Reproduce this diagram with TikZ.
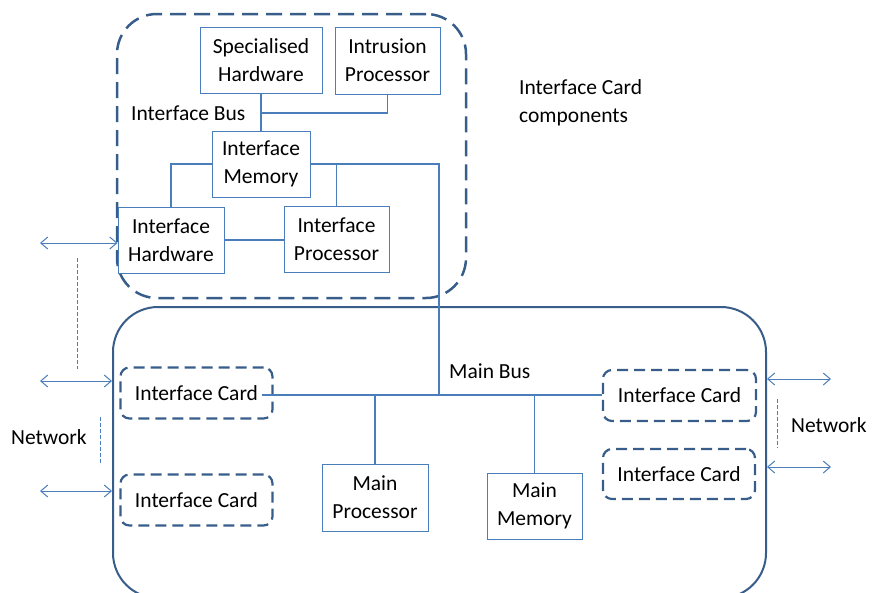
\documentclass[tikz,border=0pt]{standalone}
\usepackage{fontspec}
\setmainfont{Carlito}
\usetikzlibrary{arrows.meta}
\definecolor{lineblue}{RGB}{74,126,187}
\definecolor{frameblue}{RGB}{56,93,138}
\begin{document}
\begin{tikzpicture}[x=1pt,y=-1pt,
  every node/.style={font=\fontsize{21.5}{28}\selectfont, text=black},
  unit/.style={draw=lineblue, line width=1pt, align=center, inner sep=0pt},
  cardbox/.style={draw=frameblue, line width=2.2pt, dash pattern=on 11pt off 6pt,
    rounded corners=9pt, inner sep=0pt, minimum width=152pt, minimum height=51pt},
  link/.style={draw=lineblue, line width=1.1pt},
  netarrow/.style={lineblue, line width=1pt,
    {Straight Barb[length=7pt,width=12pt]}-{Straight Barb[length=7pt,width=12pt]}},
  netdash/.style={lineblue, line width=0.9pt, dash pattern=on 4pt off 2pt},
  label/.style={inner sep=0pt, anchor=base west}]

\useasboundingbox (0,0) rectangle (872,592);

% interface card enclosure and the host machine
\node[draw=frameblue, line width=2.5pt, dash pattern=on 16pt off 8pt,
  rounded corners=40pt, minimum width=349pt, minimum height=284pt] (icbox) at (291.5,156) {};
\node[draw=frameblue, line width=2pt, rounded corners=45pt,
  minimum width=653pt, minimum height=291pt] (mainbox) at (439.5,452.5) {};

% components of the interface card
\node[unit, minimum width=122pt, minimum height=66pt] (spec)  at (261,60)    {Specialised\\Hardware};
\node[unit, minimum width=105pt, minimum height=67pt] (intr)  at (387.5,60.5) {Intrusion\\Processor};
\node[unit, minimum width=98pt,  minimum height=66pt] (imem)  at (261,164)   {Interface\\Memory};
\node[unit, minimum width=106pt, minimum height=66pt] (ihw)   at (171,240)   {Interface\\Hardware};
\node[unit, minimum width=105pt, minimum height=66pt] (iproc) at (336.5,239) {Interface\\Processor};

% host components
\node[unit, minimum width=106pt, minimum height=67pt] (mproc) at (375,497.5) {Main\\Processor};
\node[unit, minimum width=95pt,  minimum height=66pt] (mmem)  at (534.5,506) {Main\\Memory};

\node[cardbox] (lcard1) at (196.5,393) {Interface Card};
\node[cardbox] (lcard2) at (196.5,500) {Interface Card};
\node[cardbox, minimum width=153pt] (rcard1) at (679.5,395.5) {Interface Card};
\node[cardbox, minimum height=50pt] (rcard2) at (679,474) {Interface Card};

% interface bus
\coordinate (ibus) at (261,113);
\draw[link] (spec.south) -- (imem.north);
\draw[link] (ibus) -| (intr.south);
\draw[link] (imem.west) -| (ihw.north);
\draw[link] (imem.east) -| (iproc.north);
\draw[link] (ihw.east) -- (ihw.east -| iproc.west);

% main bus
\coordinate (busL) at (262,395);
\coordinate (drop) at (439,395);
\draw[link] (busL) -- (busL -| rcard1.west);
\draw[link] (imem.east) -| (drop);
\draw[link] (mproc.north) -- (mproc.north |- busL);
\draw[link] (mmem.north) -- (mmem.north |- busL);

% network links
\coordinate (nl1) at (40,243);
\coordinate (nl2) at (40,381);
\coordinate (nl3) at (40,491);
\coordinate (nr1) at (831,379);
\coordinate (nr2) at (831,467);
\draw[netarrow] (nl1) -- (nl1 -| ihw.west);
\draw[netarrow] (nl2) -- (nl2 -| mainbox.west);
\draw[netarrow] (nl3) -- (nl3 -| mainbox.west);
\draw[netarrow] (nr1 -| mainbox.east) -- (nr1);
\draw[netarrow] (nr2 -| mainbox.east) -- (nr2);

\coordinate (d1a) at (77,258);  \coordinate (d1b) at (77,369);
\coordinate (d2a) at (100,417); \coordinate (d2b) at (100,465);
\coordinate (d3a) at (777,399); \coordinate (d3b) at (777,448);
\draw[netdash] (d1a) -- (d1b);
\draw[netdash] (d2a) -- (d2b);
\draw[netdash] (d3a) -- (d3b);

% labels
\node[label] (lbus)  at (131,120) {Interface Bus};
\node[label] (lmbus) at (449,378) {Main Bus};
\node[label] (lnetl) at (11,444)  {Network};
\node[label] (lnetr) at (791,432) {Network};
\node[inner sep=0pt, anchor=west, align=left] (lcomp) at (519,103) {Interface Card\\components};
\end{tikzpicture}
\end{document}
